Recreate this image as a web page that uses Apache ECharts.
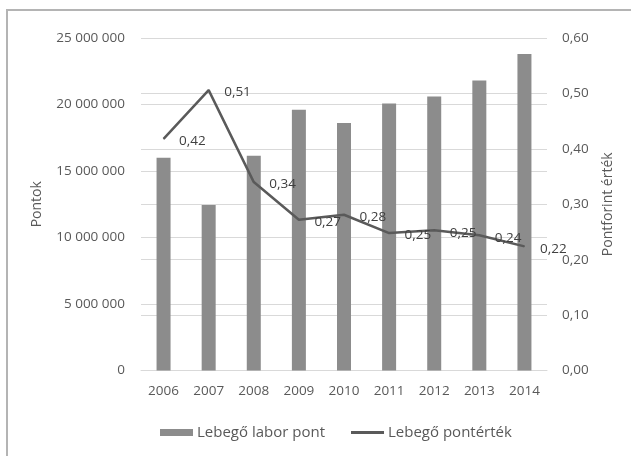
<!DOCTYPE html>
<html>
<head>
<meta charset="utf-8">
<script src="https://cdn.jsdelivr.net/npm/echarts@6/dist/echarts.min.js"></script>
<style>
  html, body { margin: 0; padding: 0; background: #fff; }
  #chart { width: 631px; height: 456px; }
</style>
</head>
<body>
<div id="chart"></div>
<script>
// évek
const years = ['2006', '2007', '2008', '2009', '2010', '2011', '2012', '2013', '2014'];
// Lebegő labor pont (bal tengely)
const laborPont = [16000000, 12440000, 16150000, 19600000, 18600000, 20080000, 20600000, 21800000, 23800000];
// Lebegő pontérték (jobb tengely)
const pontertek = [0.418, 0.506, 0.34, 0.272, 0.281, 0.248, 0.253, 0.244, 0.224];

const textColor = '#595959';
const fontFamily = '"Open Sans", sans-serif';
const fs = 13.5;

const fmtPont = v => String(v).replace(/\B(?=(\d{3})+(?!\d))/g, ' ');
const fmtErtek = v => v.toFixed(2).replace('.', ',');

const chart = echarts.init(document.getElementById('chart'));

chart.setOption({
  animation: false,
  textStyle: { fontFamily: fontFamily },
  graphic: [{
    type: 'rect',
    shape: { x: 7, y: 10, width: 800, height: 600 },
    style: { fill: 'none', stroke: '#b4b4b4', lineWidth: 2 },
    silent: true
  }],
  grid: {
    left: 141,
    right: 84,
    top: 38,
    bottom: 85.5
  },
  legend: {
    top: 420,
    left: 155,
    itemWidth: 33,
    itemHeight: 7,
    itemGap: 26,
    textStyle: { color: textColor, fontSize: 15, fontFamily: fontFamily, padding: [0, 0, 0, -1] },
    data: [
      { name: 'Lebegő labor pont', icon: 'rect' },
      { name: 'Lebegő pontérték', icon: 'path://M0,0 L33,0 L33,3 L0,3 Z' }
    ]
  },
  xAxis: {
    type: 'category',
    data: years,
    axisLine: { lineStyle: { color: '#d9d9d9' } },
    axisTick: { show: false },
    axisLabel: { color: textColor, fontSize: fs, margin: 14 }
  },
  yAxis: [{
    type: 'value',
    name: 'Pontok',
    nameLocation: 'middle',
    nameGap: 97,
    nameTextStyle: { color: textColor, fontSize: 14 },
    min: 0,
    max: 25000000,
    interval: 5000000,
    axisLine: { show: false },
    axisTick: { show: false },
    axisLabel: { color: textColor, fontSize: fs, margin: 16, formatter: fmtPont },
    splitLine: { lineStyle: { color: '#d9d9d9', width: 1 } }
  }, {
    type: 'value',
    name: 'Pontforint érték',
    nameLocation: 'middle',
    nameGap: 54,
    nameRotate: 90,
    nameTextStyle: { color: textColor, fontSize: 14 },
    min: 0,
    max: 0.6,
    interval: 0.1,
    axisLine: { show: false },
    axisTick: { show: false },
    axisLabel: { color: textColor, fontSize: fs, margin: 15, formatter: fmtErtek },
    splitLine: { lineStyle: { color: '#d9d9d9', width: 1 } }
  }],
  series: [{
    name: 'Lebegő labor pont',
    type: 'bar',
    yAxisIndex: 0,
    barWidth: 14,
    itemStyle: { color: '#8c8c8c' },
    data: laborPont
  }, {
    name: 'Lebegő pontérték',
    type: 'line',
    yAxisIndex: 1,
    symbol: 'circle',
    symbolSize: 1,
    showSymbol: true,
    lineStyle: { color: '#5a5a5a', width: 2.5 },
    itemStyle: { color: '#5a5a5a' },
    label: {
      show: true,
      position: 'right',
      distance: 15,
      offset: [0, 2.5],
      color: '#404040',
      fontSize: fs,
      formatter: p => fmtErtek(p.value)
    },
    data: pontertek
  }]
});
</script>
</body>
</html>
